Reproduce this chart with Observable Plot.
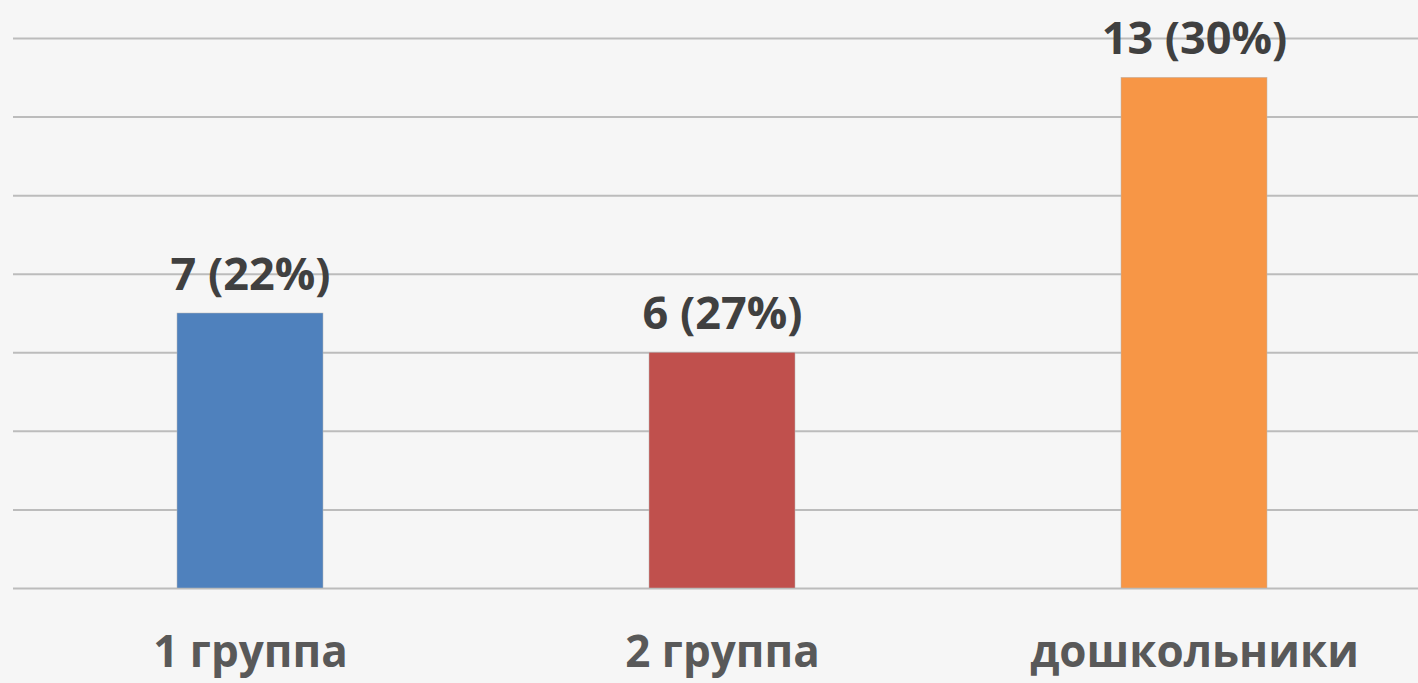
<!DOCTYPE html>
<html>
<head>
<meta charset="utf-8">
<script src="https://cdn.jsdelivr.net/npm/d3@7"></script>
<script src="https://cdn.jsdelivr.net/npm/@observablehq/plot@0.6"></script>
<style>
  html, body { margin: 0; padding: 0; background: #f6f6f6; overflow: hidden; }
  #chart svg { display: block; background: linear-gradient(180deg, #fbfbfb 0%, #f4f4f4 100%); }
</style>
</head>
<body>
<div id="chart"></div>
<script>
const categories = ["1 группа", "2 группа", "дошкольники"];
const values = [7, 6, 13];
const percents = ["22%", "27%", "30%"];
const colors = ["#4f81bd", "#c0504d", "#f79646"];
const gridTicks = [0, 2, 4, 6, 8, 10, 12, 14];

const data = categories.map((c, i) => ({
  category: c,
  value: values[i],
  label: `${values[i]} (${percents[i]})`,
  color: colors[i]
}));

const chart = Plot.plot({
  width: 1418,
  height: 683,
  marginLeft: 13,
  marginRight: 0,
  marginTop: 38,
  marginBottom: 95,
  style: { background: "transparent", fontFamily: "'Open Sans', sans-serif", overflow: "visible" },
  x: { domain: categories, range: [14, 1430], paddingInner: 0.69, paddingOuter: 0.345, axis: null },
  y: { domain: [0, 14], axis: null },
  marks: [
    Plot.ruleY(gridTicks, { stroke: "#bcbcbc", strokeWidth: 2 }),
    Plot.barY(data, { x: "category", y: "value", fill: "color", stroke: "#b8b8b8", strokeWidth: 0.5 }),
    Plot.text(data, {
      x: "category", y: "value", text: "label", dy: -38,
      fontSize: 45, fontWeight: "bold", fill: "#404040", lineAnchor: "middle"
    }),
    Plot.text(data, {
      x: "category", y: () => 0, text: "category", dy: 64,
      fontSize: 44, fontWeight: "bold", fill: "#595959", lineAnchor: "middle"
    })
  ]
});
document.getElementById("chart").appendChild(chart);
</script>
</body>
</html>
